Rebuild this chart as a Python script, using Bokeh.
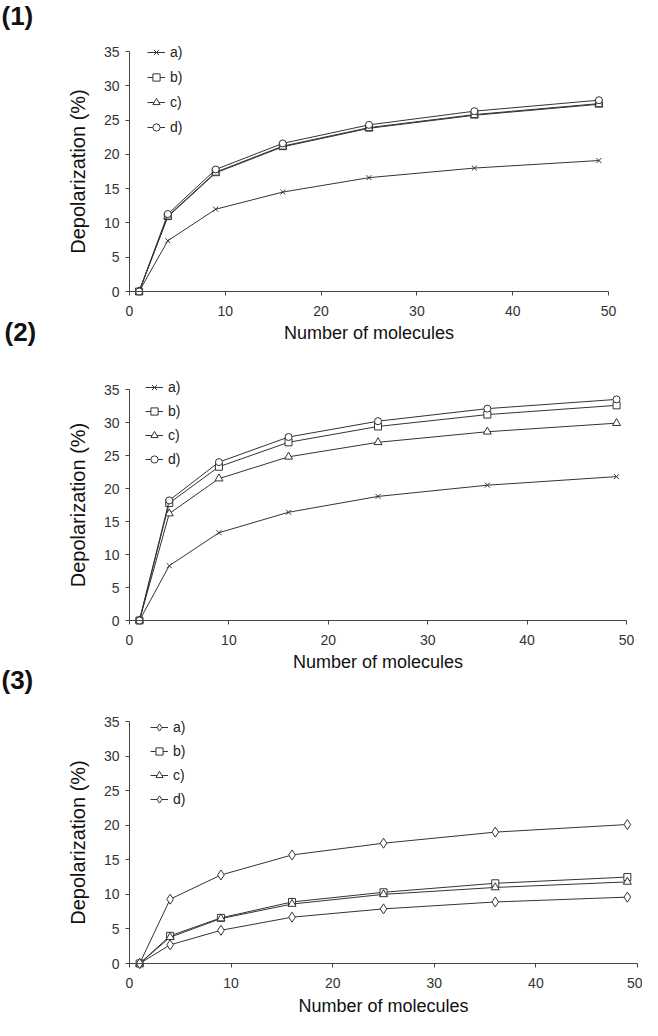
from bokeh.plotting import figure
from bokeh.layouts import column
from bokeh.models import Range1d, FixedTicker, Legend, LegendItem, Label
from bokeh.embed import file_html
from bokeh.resources import INLINE

# ---- data ----
n_molecules = [1, 4, 9, 16, 25, 36, 49]
x_ticks = [0, 10, 20, 30, 40, 50]
y_ticks = [0, 5, 10, 15, 20, 25, 30, 35]
series_labels = ["a)", "b)", "c)", "d)"]
panel_titles = ["(1)", "(2)", "(3)"]
x_title = "Number of molecules"
y_title = "Depolarization (%)"

p1_a = [0, 7.4, 12.0, 14.5, 16.6, 18.0, 19.1]
p1_b = [0, 11.0, 17.4, 21.2, 23.9, 25.8, 27.4]
p1_c = [0, 10.9, 17.3, 21.1, 23.8, 25.7, 27.3]
p1_d = [0, 11.3, 17.8, 21.6, 24.3, 26.3, 27.9]

p2_a = [0, 8.3, 13.3, 16.4, 18.8, 20.5, 21.8]
p2_b = [0, 17.8, 23.3, 27.0, 29.4, 31.2, 32.6]
p2_c = [0, 16.2, 21.5, 24.8, 27.0, 28.6, 29.9]
p2_d = [0, 18.2, 24.0, 27.8, 30.2, 32.1, 33.5]

p3_a = [0, 2.7, 4.8, 6.7, 7.9, 8.9, 9.6]
p3_b = [0, 4.0, 6.6, 8.9, 10.3, 11.6, 12.5]
p3_c = [0, 3.8, 6.5, 8.6, 10.0, 11.0, 11.8]
p3_d = [0, 9.3, 12.8, 15.7, 17.4, 19.0, 20.1]

markers_12 = ["x", "square", "triangle", "circle"]
markers_3 = ["diamond", "square", "triangle", "diamond"]
marker_sizes = {"x": 7, "square": 7, "triangle": 8, "circle": 7, "diamond": 10}

FONT = "Liberation Sans"
INK = "#333333"
FIG_W = 642
X0, X1 = 0, 50
Y0, Y1 = 0, 35


def make_panel(series, markers, fig_top, fig_bottom, ax_left, ax_right,
               ax_top, ax_bottom, legend_left, legend_top, legend_spacing,
               x_label_standoff, tags):
    """All positions are page pixels; the frame covers the whole figure and the
    axes are pinned (fixed_location) at the data origin."""
    fig_h = fig_bottom - fig_top
    xs = (ax_right - ax_left) / (X1 - X0)
    ys = (ax_bottom - ax_top) / (Y1 - Y0)
    x_start = X0 - (ax_left - 8) / xs
    x_end = X0 + (8 + FIG_W - ax_left) / xs
    y_end = Y0 + (ax_bottom - fig_top) / ys
    y_start = Y0 - (fig_bottom - ax_bottom) / ys

    p = figure(frame_width=FIG_W, frame_height=fig_h, min_border=0,
               x_range=Range1d(x_start, x_end), y_range=Range1d(y_start, y_end),
               output_backend="svg", toolbar_location=None)
    p.outline_line_color = None
    p.xgrid.visible = False
    p.ygrid.visible = False
    p.xaxis.ticker = FixedTicker(ticks=x_ticks)
    p.yaxis.ticker = FixedTicker(ticks=y_ticks)
    p.xaxis.fixed_location = Y0
    p.yaxis.fixed_location = X0
    p.xaxis.bounds = (X0, X1)
    p.yaxis.bounds = (Y0, Y1)
    for ax in (p.xaxis, p.yaxis):
        ax.major_tick_out = 4
        ax.major_tick_in = 0
        ax.minor_tick_out = 0
        ax.minor_tick_in = 0
        ax.axis_line_color = "#444444"
        ax.major_tick_line_color = "#444444"
        ax.major_label_text_font = FONT
        ax.major_label_text_font_size = "14px"
        ax.major_label_text_color = "#333333"
        ax.axis_label_text_font = FONT
        ax.axis_label_text_font_style = "normal"
        ax.axis_label_text_color = "#111111"
    p.xaxis.axis_label_text_font_size = "18px"
    p.yaxis.axis_label_text_font_size = "20px"
    p.xaxis.axis_label = x_title
    p.yaxis.axis_label = y_title
    p.xaxis.major_label_standoff = 10
    p.yaxis.major_label_standoff = 6
    p.xaxis.axis_label_standoff = x_label_standoff
    p.yaxis.axis_label_standoff = 12

    items = []
    for vals, mk, lab in zip(series, markers, series_labels):
        lr = p.line(n_molecules, vals, line_color=INK, line_width=1)
        sr = p.scatter(n_molecules, vals, marker=mk, size=marker_sizes[mk],
                       line_color=INK, line_width=1, fill_color="white")
        items.append(LegendItem(label=lab, renderers=[lr, sr]))
    leg_h = 4 * 20 + 3 * legend_spacing
    legend = Legend(items=items,
                    location=(legend_left - 8, fig_h - (legend_top - fig_top) - leg_h),
                    background_fill_alpha=0, border_line_alpha=0,
                    padding=0, margin=0, spacing=legend_spacing,
                    glyph_width=18, glyph_height=20, label_height=20,
                    label_standoff=5, label_text_font=FONT,
                    label_text_font_size="14px", label_text_color="#222222")
    p.add_layout(legend)

    for txt, left, top in tags:
        p.add_layout(Label(x=left - 8, y=fig_h - (top - fig_top), x_units="screen",
                           y_units="screen", text=txt, text_font=FONT,
                           text_font_size="26px", text_font_style="bold",
                           text_baseline="top", text_color="#111111"))
    return p


p1 = make_panel([p1_a, p1_b, p1_c, p1_d], markers_12, 8, 362, 137, 616, 59, 299,
                155, 50, 5, 4, [(panel_titles[0], 9, 8), (panel_titles[1], 12, 324)])
p2 = make_panel([p2_a, p2_b, p2_c, p2_d], markers_12, 362, 710, 137, 634, 397, 628,
                153, 385, 4, 4, [(panel_titles[2], 9, 672)])
p3 = make_panel([p3_a, p3_b, p3_c, p3_d], markers_3, 710, 1028, 137, 645, 729, 971,
                158, 725, 4, 5, [])

layout = column(p1, p2, p3, spacing=0)
open("out.html", "w").write(file_html(layout, INLINE))
